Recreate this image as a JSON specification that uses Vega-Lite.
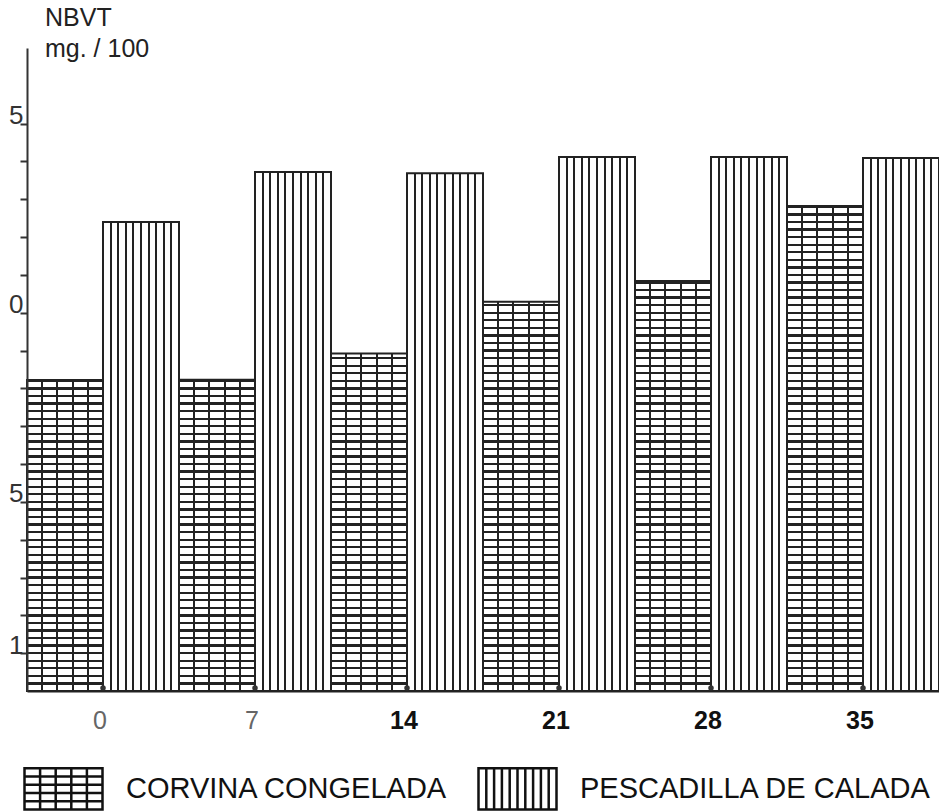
{
"$schema": "https://vega.github.io/schema/vega-lite/v6.json",
"width": 912,
"height": 643,
"autosize": "none",
"padding": {"left": 27, "top": 48, "right": 0, "bottom": 121},
"background": "white",
"config": {"view": {"stroke": null}},
"title": {"text": ["NBVT", "mg. / 100"], "anchor": "start", "frame": "group", "dx": 18, "dy": 14, "offset": 0, "font": "Liberation Sans", "fontSize": 25, "fontWeight": "normal", "lineHeight": 31, "color": "#222"},
"resolve": {"axis": {"y": "independent"}},
"data": {"values": [
{"day": 0, "series": "CORVINA CONGELADA", "value": 18.22},
{"day": 0, "series": "PESCADILLA DE CALADA", "value": 22.40},
{"day": 7, "series": "CORVINA CONGELADA", "value": 18.23},
{"day": 7, "series": "PESCADILLA DE CALADA", "value": 23.72},
{"day": 14, "series": "CORVINA CONGELADA", "value": 18.92},
{"day": 14, "series": "PESCADILLA DE CALADA", "value": 23.69},
{"day": 21, "series": "CORVINA CONGELADA", "value": 20.29},
{"day": 21, "series": "PESCADILLA DE CALADA", "value": 24.12},
{"day": 28, "series": "CORVINA CONGELADA", "value": 20.84},
{"day": 28, "series": "PESCADILLA DE CALADA", "value": 24.12},
{"day": 35, "series": "CORVINA CONGELADA", "value": 22.82},
{"day": 35, "series": "PESCADILLA DE CALADA", "value": 24.09}
]},
"encoding": {
"x": {"field": "day", "type": "ordinal", "scale": {"paddingInner": 0, "paddingOuter": 0},
 "axis": {"title": null, "labelAngle": 0, "tickSize": 0, "domain": true, "domainColor": "#222", "domainWidth": 2, "labelFont": "Liberation Sans", "labelFontSize": 25, "labelPadding": 17, "labelBaseline": "top", "labelOffset": -3, "zindex": 1,
  "labelFontWeight": {"condition": {"test": "datum.value >= 14", "value": "bold"}, "value": "normal"},
  "labelColor": {"condition": {"test": "datum.value < 14", "value": "#666"}, "value": "#111"}}}
},
"layer": [
{"transform": [{"filter": "datum.series == 'CORVINA CONGELADA'"}],
 "mark": {"type": "bar", "strokeWidth": 0, "fill": {"gradient": "linear", "x1": 0, "y1": 0, "x2": 0, "y2": 1, "stops": [
{"offset": 0, "color": "#fff"},
{"offset": 0.00996, "color": "#fff"},{"offset": 0.00996, "color": "#222"},{"offset": 0.01356, "color": "#222"},{"offset": 0.01356, "color": "#fff"},
{"offset": 0.02173, "color": "#fff"},{"offset": 0.02173, "color": "#222"},{"offset": 0.02533, "color": "#222"},{"offset": 0.02533, "color": "#fff"},
{"offset": 0.03349, "color": "#fff"},{"offset": 0.03349, "color": "#222"},{"offset": 0.03709, "color": "#222"},{"offset": 0.03709, "color": "#fff"},
{"offset": 0.04526, "color": "#fff"},{"offset": 0.04526, "color": "#222"},{"offset": 0.04886, "color": "#222"},{"offset": 0.04886, "color": "#fff"},
{"offset": 0.05702, "color": "#fff"},{"offset": 0.05702, "color": "#222"},{"offset": 0.06062, "color": "#222"},{"offset": 0.06062, "color": "#fff"},
{"offset": 0.06879, "color": "#fff"},{"offset": 0.06879, "color": "#222"},{"offset": 0.07239, "color": "#222"},{"offset": 0.07239, "color": "#fff"},
{"offset": 0.08055, "color": "#fff"},{"offset": 0.08055, "color": "#222"},{"offset": 0.08415, "color": "#222"},{"offset": 0.08415, "color": "#fff"},
{"offset": 0.09232, "color": "#fff"},{"offset": 0.09232, "color": "#222"},{"offset": 0.09592, "color": "#222"},{"offset": 0.09592, "color": "#fff"},
{"offset": 0.10408, "color": "#fff"},{"offset": 0.10408, "color": "#222"},{"offset": 0.10768, "color": "#222"},{"offset": 0.10768, "color": "#fff"},
{"offset": 0.11585, "color": "#fff"},{"offset": 0.11585, "color": "#222"},{"offset": 0.11945, "color": "#222"},{"offset": 0.11945, "color": "#fff"},
{"offset": 0.12761, "color": "#fff"},{"offset": 0.12761, "color": "#222"},{"offset": 0.13121, "color": "#222"},{"offset": 0.13121, "color": "#fff"},
{"offset": 0.13938, "color": "#fff"},{"offset": 0.13938, "color": "#222"},{"offset": 0.14298, "color": "#222"},{"offset": 0.14298, "color": "#fff"},
{"offset": 0.15114, "color": "#fff"},{"offset": 0.15114, "color": "#222"},{"offset": 0.15474, "color": "#222"},{"offset": 0.15474, "color": "#fff"},
{"offset": 0.16291, "color": "#fff"},{"offset": 0.16291, "color": "#222"},{"offset": 0.16651, "color": "#222"},{"offset": 0.16651, "color": "#fff"},
{"offset": 0.17467, "color": "#fff"},{"offset": 0.17467, "color": "#222"},{"offset": 0.17827, "color": "#222"},{"offset": 0.17827, "color": "#fff"},
{"offset": 0.18644, "color": "#fff"},{"offset": 0.18644, "color": "#222"},{"offset": 0.19004, "color": "#222"},{"offset": 0.19004, "color": "#fff"},
{"offset": 0.1982, "color": "#fff"},{"offset": 0.1982, "color": "#222"},{"offset": 0.2018, "color": "#222"},{"offset": 0.2018, "color": "#fff"},
{"offset": 0.20996, "color": "#fff"},{"offset": 0.20996, "color": "#222"},{"offset": 0.21356, "color": "#222"},{"offset": 0.21356, "color": "#fff"},
{"offset": 0.22173, "color": "#fff"},{"offset": 0.22173, "color": "#222"},{"offset": 0.22533, "color": "#222"},{"offset": 0.22533, "color": "#fff"},
{"offset": 0.23349, "color": "#fff"},{"offset": 0.23349, "color": "#222"},{"offset": 0.23709, "color": "#222"},{"offset": 0.23709, "color": "#fff"},
{"offset": 0.24526, "color": "#fff"},{"offset": 0.24526, "color": "#222"},{"offset": 0.24886, "color": "#222"},{"offset": 0.24886, "color": "#fff"},
{"offset": 0.25702, "color": "#fff"},{"offset": 0.25702, "color": "#222"},{"offset": 0.26062, "color": "#222"},{"offset": 0.26062, "color": "#fff"},
{"offset": 0.26879, "color": "#fff"},{"offset": 0.26879, "color": "#222"},{"offset": 0.27239, "color": "#222"},{"offset": 0.27239, "color": "#fff"},
{"offset": 0.28055, "color": "#fff"},{"offset": 0.28055, "color": "#222"},{"offset": 0.28415, "color": "#222"},{"offset": 0.28415, "color": "#fff"},
{"offset": 0.29232, "color": "#fff"},{"offset": 0.29232, "color": "#222"},{"offset": 0.29592, "color": "#222"},{"offset": 0.29592, "color": "#fff"},
{"offset": 0.30408, "color": "#fff"},{"offset": 0.30408, "color": "#222"},{"offset": 0.30768, "color": "#222"},{"offset": 0.30768, "color": "#fff"},
{"offset": 0.31585, "color": "#fff"},{"offset": 0.31585, "color": "#222"},{"offset": 0.31945, "color": "#222"},{"offset": 0.31945, "color": "#fff"},
{"offset": 0.32761, "color": "#fff"},{"offset": 0.32761, "color": "#222"},{"offset": 0.33121, "color": "#222"},{"offset": 0.33121, "color": "#fff"},
{"offset": 0.33938, "color": "#fff"},{"offset": 0.33938, "color": "#222"},{"offset": 0.34298, "color": "#222"},{"offset": 0.34298, "color": "#fff"},
{"offset": 0.35114, "color": "#fff"},{"offset": 0.35114, "color": "#222"},{"offset": 0.35474, "color": "#222"},{"offset": 0.35474, "color": "#fff"},
{"offset": 0.36291, "color": "#fff"},{"offset": 0.36291, "color": "#222"},{"offset": 0.36651, "color": "#222"},{"offset": 0.36651, "color": "#fff"},
{"offset": 0.37467, "color": "#fff"},{"offset": 0.37467, "color": "#222"},{"offset": 0.37827, "color": "#222"},{"offset": 0.37827, "color": "#fff"},
{"offset": 0.38644, "color": "#fff"},{"offset": 0.38644, "color": "#222"},{"offset": 0.39004, "color": "#222"},{"offset": 0.39004, "color": "#fff"},
{"offset": 0.3982, "color": "#fff"},{"offset": 0.3982, "color": "#222"},{"offset": 0.4018, "color": "#222"},{"offset": 0.4018, "color": "#fff"},
{"offset": 0.40996, "color": "#fff"},{"offset": 0.40996, "color": "#222"},{"offset": 0.41356, "color": "#222"},{"offset": 0.41356, "color": "#fff"},
{"offset": 0.42173, "color": "#fff"},{"offset": 0.42173, "color": "#222"},{"offset": 0.42533, "color": "#222"},{"offset": 0.42533, "color": "#fff"},
{"offset": 0.43349, "color": "#fff"},{"offset": 0.43349, "color": "#222"},{"offset": 0.43709, "color": "#222"},{"offset": 0.43709, "color": "#fff"},
{"offset": 0.44526, "color": "#fff"},{"offset": 0.44526, "color": "#222"},{"offset": 0.44886, "color": "#222"},{"offset": 0.44886, "color": "#fff"},
{"offset": 0.45702, "color": "#fff"},{"offset": 0.45702, "color": "#222"},{"offset": 0.46062, "color": "#222"},{"offset": 0.46062, "color": "#fff"},
{"offset": 0.46879, "color": "#fff"},{"offset": 0.46879, "color": "#222"},{"offset": 0.47239, "color": "#222"},{"offset": 0.47239, "color": "#fff"},
{"offset": 0.48055, "color": "#fff"},{"offset": 0.48055, "color": "#222"},{"offset": 0.48415, "color": "#222"},{"offset": 0.48415, "color": "#fff"},
{"offset": 0.49232, "color": "#fff"},{"offset": 0.49232, "color": "#222"},{"offset": 0.49592, "color": "#222"},{"offset": 0.49592, "color": "#fff"},
{"offset": 0.50408, "color": "#fff"},{"offset": 0.50408, "color": "#222"},{"offset": 0.50768, "color": "#222"},{"offset": 0.50768, "color": "#fff"},
{"offset": 0.51585, "color": "#fff"},{"offset": 0.51585, "color": "#222"},{"offset": 0.51945, "color": "#222"},{"offset": 0.51945, "color": "#fff"},
{"offset": 0.52761, "color": "#fff"},{"offset": 0.52761, "color": "#222"},{"offset": 0.53121, "color": "#222"},{"offset": 0.53121, "color": "#fff"},
{"offset": 0.53938, "color": "#fff"},{"offset": 0.53938, "color": "#222"},{"offset": 0.54298, "color": "#222"},{"offset": 0.54298, "color": "#fff"},
{"offset": 0.55114, "color": "#fff"},{"offset": 0.55114, "color": "#222"},{"offset": 0.55474, "color": "#222"},{"offset": 0.55474, "color": "#fff"},
{"offset": 0.56291, "color": "#fff"},{"offset": 0.56291, "color": "#222"},{"offset": 0.56651, "color": "#222"},{"offset": 0.56651, "color": "#fff"},
{"offset": 0.57467, "color": "#fff"},{"offset": 0.57467, "color": "#222"},{"offset": 0.57827, "color": "#222"},{"offset": 0.57827, "color": "#fff"},
{"offset": 0.58644, "color": "#fff"},{"offset": 0.58644, "color": "#222"},{"offset": 0.59004, "color": "#222"},{"offset": 0.59004, "color": "#fff"},
{"offset": 0.5982, "color": "#fff"},{"offset": 0.5982, "color": "#222"},{"offset": 0.6018, "color": "#222"},{"offset": 0.6018, "color": "#fff"},
{"offset": 0.60996, "color": "#fff"},{"offset": 0.60996, "color": "#222"},{"offset": 0.61356, "color": "#222"},{"offset": 0.61356, "color": "#fff"},
{"offset": 0.62173, "color": "#fff"},{"offset": 0.62173, "color": "#222"},{"offset": 0.62533, "color": "#222"},{"offset": 0.62533, "color": "#fff"},
{"offset": 0.63349, "color": "#fff"},{"offset": 0.63349, "color": "#222"},{"offset": 0.63709, "color": "#222"},{"offset": 0.63709, "color": "#fff"},
{"offset": 0.64526, "color": "#fff"},{"offset": 0.64526, "color": "#222"},{"offset": 0.64886, "color": "#222"},{"offset": 0.64886, "color": "#fff"},
{"offset": 0.65702, "color": "#fff"},{"offset": 0.65702, "color": "#222"},{"offset": 0.66062, "color": "#222"},{"offset": 0.66062, "color": "#fff"},
{"offset": 0.66879, "color": "#fff"},{"offset": 0.66879, "color": "#222"},{"offset": 0.67239, "color": "#222"},{"offset": 0.67239, "color": "#fff"},
{"offset": 0.68055, "color": "#fff"},{"offset": 0.68055, "color": "#222"},{"offset": 0.68415, "color": "#222"},{"offset": 0.68415, "color": "#fff"},
{"offset": 0.69232, "color": "#fff"},{"offset": 0.69232, "color": "#222"},{"offset": 0.69592, "color": "#222"},{"offset": 0.69592, "color": "#fff"},
{"offset": 0.70408, "color": "#fff"},{"offset": 0.70408, "color": "#222"},{"offset": 0.70768, "color": "#222"},{"offset": 0.70768, "color": "#fff"},
{"offset": 0.71585, "color": "#fff"},{"offset": 0.71585, "color": "#222"},{"offset": 0.71945, "color": "#222"},{"offset": 0.71945, "color": "#fff"},
{"offset": 0.72761, "color": "#fff"},{"offset": 0.72761, "color": "#222"},{"offset": 0.73121, "color": "#222"},{"offset": 0.73121, "color": "#fff"},
{"offset": 0.73938, "color": "#fff"},{"offset": 0.73938, "color": "#222"},{"offset": 0.74298, "color": "#222"},{"offset": 0.74298, "color": "#fff"},
{"offset": 0.75114, "color": "#fff"},{"offset": 0.75114, "color": "#222"},{"offset": 0.75474, "color": "#222"},{"offset": 0.75474, "color": "#fff"},
{"offset": 0.76291, "color": "#fff"},{"offset": 0.76291, "color": "#222"},{"offset": 0.76651, "color": "#222"},{"offset": 0.76651, "color": "#fff"},
{"offset": 0.77467, "color": "#fff"},{"offset": 0.77467, "color": "#222"},{"offset": 0.77827, "color": "#222"},{"offset": 0.77827, "color": "#fff"},
{"offset": 0.78644, "color": "#fff"},{"offset": 0.78644, "color": "#222"},{"offset": 0.79004, "color": "#222"},{"offset": 0.79004, "color": "#fff"},
{"offset": 0.7982, "color": "#fff"},{"offset": 0.7982, "color": "#222"},{"offset": 0.8018, "color": "#222"},{"offset": 0.8018, "color": "#fff"},
{"offset": 0.80996, "color": "#fff"},{"offset": 0.80996, "color": "#222"},{"offset": 0.81356, "color": "#222"},{"offset": 0.81356, "color": "#fff"},
{"offset": 0.82173, "color": "#fff"},{"offset": 0.82173, "color": "#222"},{"offset": 0.82533, "color": "#222"},{"offset": 0.82533, "color": "#fff"},
{"offset": 0.83349, "color": "#fff"},{"offset": 0.83349, "color": "#222"},{"offset": 0.83709, "color": "#222"},{"offset": 0.83709, "color": "#fff"},
{"offset": 0.84526, "color": "#fff"},{"offset": 0.84526, "color": "#222"},{"offset": 0.84886, "color": "#222"},{"offset": 0.84886, "color": "#fff"},
{"offset": 0.85702, "color": "#fff"},{"offset": 0.85702, "color": "#222"},{"offset": 0.86062, "color": "#222"},{"offset": 0.86062, "color": "#fff"},
{"offset": 0.86879, "color": "#fff"},{"offset": 0.86879, "color": "#222"},{"offset": 0.87239, "color": "#222"},{"offset": 0.87239, "color": "#fff"},
{"offset": 0.88055, "color": "#fff"},{"offset": 0.88055, "color": "#222"},{"offset": 0.88415, "color": "#222"},{"offset": 0.88415, "color": "#fff"},
{"offset": 0.89232, "color": "#fff"},{"offset": 0.89232, "color": "#222"},{"offset": 0.89592, "color": "#222"},{"offset": 0.89592, "color": "#fff"},
{"offset": 0.90408, "color": "#fff"},{"offset": 0.90408, "color": "#222"},{"offset": 0.90768, "color": "#222"},{"offset": 0.90768, "color": "#fff"},
{"offset": 0.91585, "color": "#fff"},{"offset": 0.91585, "color": "#222"},{"offset": 0.91945, "color": "#222"},{"offset": 0.91945, "color": "#fff"},
{"offset": 0.92761, "color": "#fff"},{"offset": 0.92761, "color": "#222"},{"offset": 0.93121, "color": "#222"},{"offset": 0.93121, "color": "#fff"},
{"offset": 0.93938, "color": "#fff"},{"offset": 0.93938, "color": "#222"},{"offset": 0.94298, "color": "#222"},{"offset": 0.94298, "color": "#fff"},
{"offset": 0.95114, "color": "#fff"},{"offset": 0.95114, "color": "#222"},{"offset": 0.95474, "color": "#222"},{"offset": 0.95474, "color": "#fff"},
{"offset": 0.96291, "color": "#fff"},{"offset": 0.96291, "color": "#222"},{"offset": 0.96651, "color": "#222"},{"offset": 0.96651, "color": "#fff"},
{"offset": 0.97467, "color": "#fff"},{"offset": 0.97467, "color": "#222"},{"offset": 0.97827, "color": "#222"},{"offset": 0.97827, "color": "#fff"},
{"offset": 0.98644, "color": "#fff"},{"offset": 0.98644, "color": "#222"},{"offset": 0.99004, "color": "#222"},{"offset": 0.99004, "color": "#fff"},
{"offset": 1, "color": "#fff"}
 ]}},
 "encoding": {
  "xOffset": {"field": "series", "type": "nominal", "scale": {"paddingInner": 0, "paddingOuter": 0}},
  "y": {"datum": 27, "type": "quantitative", "scale": {"domain": [10, 27], "nice": false, "zero": false},
   "axis": {"title": null, "values": [11,12,13,14,15,16,17,18,19,20,21,22,23,24,25], "labelExpr": "datum.value == 25 || datum.value == 15 ? '5' : datum.value == 20 ? '0' : datum.value == 11 ? '1' : ''", "tickSize": 7, "tickWidth": 2, "tickColor": "#333", "domainColor": "#333", "domainWidth": 2, "labelFont": "Liberation Sans", "labelFontSize": 26, "labelColor": "#333", "labelBaseline": "alphabetic", "labelPadding": -3, "grid": false, "zindex": 1}},
  "y2": {"datum": 10}
 }
},
{"transform": [{"filter": "datum.series == 'CORVINA CONGELADA'"}],
 "mark": {"type": "bar", "fill": "white", "strokeWidth": 0},
 "encoding": {
  "xOffset": {"field": "series", "type": "nominal"},
  "y": {"field": "value", "type": "quantitative", "axis": null},
  "y2": {"datum": 27}
 }
},
{"transform": [{"filter": "datum.series == 'CORVINA CONGELADA'"}],
 "mark": {"type": "bar", "stroke": "#222", "strokeWidth": 2, "fill": {"gradient": "linear", "x1": 0, "y1": 0, "x2": 1, "y2": 0, "stops": [
{"offset": 0, "color": "rgba(0,0,0,0)"},
{"offset": 0.186, "color": "rgba(0,0,0,0)"},{"offset": 0.186, "color": "#222"},{"offset": 0.214, "color": "#222"},{"offset": 0.214, "color": "rgba(0,0,0,0)"},
{"offset": 0.386, "color": "rgba(0,0,0,0)"},{"offset": 0.386, "color": "#222"},{"offset": 0.414, "color": "#222"},{"offset": 0.414, "color": "rgba(0,0,0,0)"},
{"offset": 0.586, "color": "rgba(0,0,0,0)"},{"offset": 0.586, "color": "#222"},{"offset": 0.614, "color": "#222"},{"offset": 0.614, "color": "rgba(0,0,0,0)"},
{"offset": 0.786, "color": "rgba(0,0,0,0)"},{"offset": 0.786, "color": "#222"},{"offset": 0.814, "color": "#222"},{"offset": 0.814, "color": "rgba(0,0,0,0)"},
{"offset": 1, "color": "rgba(0,0,0,0)"}
 ]}},
 "encoding": {
  "xOffset": {"field": "series", "type": "nominal"},
  "y": {"field": "value", "type": "quantitative", "axis": null},
  "y2": {"datum": 10}
 }
},
{"transform": [{"filter": "datum.series == 'PESCADILLA DE CALADA'"}],
 "mark": {"type": "bar", "stroke": "#222", "strokeWidth": 2, "fill": {"gradient": "linear", "x1": 0, "y1": 0, "x2": 1, "y2": 0, "stops": [
{"offset": 0, "color": "#fff"},
{"offset": 0.088, "color": "#fff"},{"offset": 0.088, "color": "#222"},{"offset": 0.112, "color": "#222"},{"offset": 0.112, "color": "#fff"},
{"offset": 0.188, "color": "#fff"},{"offset": 0.188, "color": "#222"},{"offset": 0.212, "color": "#222"},{"offset": 0.212, "color": "#fff"},
{"offset": 0.288, "color": "#fff"},{"offset": 0.288, "color": "#222"},{"offset": 0.312, "color": "#222"},{"offset": 0.312, "color": "#fff"},
{"offset": 0.388, "color": "#fff"},{"offset": 0.388, "color": "#222"},{"offset": 0.412, "color": "#222"},{"offset": 0.412, "color": "#fff"},
{"offset": 0.488, "color": "#fff"},{"offset": 0.488, "color": "#222"},{"offset": 0.512, "color": "#222"},{"offset": 0.512, "color": "#fff"},
{"offset": 0.588, "color": "#fff"},{"offset": 0.588, "color": "#222"},{"offset": 0.612, "color": "#222"},{"offset": 0.612, "color": "#fff"},
{"offset": 0.688, "color": "#fff"},{"offset": 0.688, "color": "#222"},{"offset": 0.712, "color": "#222"},{"offset": 0.712, "color": "#fff"},
{"offset": 0.788, "color": "#fff"},{"offset": 0.788, "color": "#222"},{"offset": 0.812, "color": "#222"},{"offset": 0.812, "color": "#fff"},
{"offset": 0.888, "color": "#fff"},{"offset": 0.888, "color": "#222"},{"offset": 0.912, "color": "#222"},{"offset": 0.912, "color": "#fff"},
{"offset": 1, "color": "#fff"}
 ]}},
 "encoding": {
  "xOffset": {"field": "series", "type": "nominal"},
  "y": {"field": "value", "type": "quantitative", "axis": null},
  "y2": {"datum": 10}
 }
},
{"transform": [{"filter": "datum.series == 'CORVINA CONGELADA'"}],
 "mark": {"type": "circle", "size": 30, "color": "#333", "opacity": 1, "yOffset": -3},
 "encoding": {"y": {"datum": 10, "type": "quantitative",
  "axis": {"orient": "right", "offset": -912, "title": null, "values": [11,12,13,14,15,16,17,18,19,20,21,22,23,24,25], "labels": false, "domain": false, "tickSize": 8, "tickWidth": 2, "tickColor": "#333", "grid": false, "zindex": 0}}}
},
{"mark": {"type": "point", "opacity": 0, "filled": false, "color": "#111", "strokeWidth": 2.5},
 "encoding": {
  "xOffset": {"field": "series", "type": "nominal"},
  "y": {"datum": 10, "type": "quantitative", "axis": null},
  "shape": {"field": "series", "type": "nominal",
   "scale": {"domain": ["CORVINA CONGELADA", "PESCADILLA DE CALADA"], "range": [
    "M-1,-0.53H1V0.53H-1Z M-0.6,-0.53V0.53 M-0.2,-0.53V0.53 M0.2,-0.53V0.53 M0.6,-0.53V0.53 M-1,-0.318H1 M-1,-0.106H1 M-1,0.106H1 M-1,0.318H1",
    "M-1,-0.53H1V0.53H-1Z M-0.8,-0.53V0.53 M-0.6,-0.53V0.53 M-0.4,-0.53V0.53 M-0.2,-0.53V0.53 M0,-0.53V0.53 M0.2,-0.53V0.53 M0.4,-0.53V0.53 M0.6,-0.53V0.53 M0.8,-0.53V0.53"]},
   "legend": {"title": null, "orient": "none", "legendX": -4, "legendY": 700, "direction": "horizontal", "padding": 0, "symbolSize": 6084, "symbolStrokeWidth": 2.5, "symbolStrokeColor": "#111", "symbolOpacity": 1, "labelFont": "Liberation Sans", "labelFontSize": 29, "labelColor": "#111", "labelOffset": 22, "labelLimit": 600, "columnPadding": 25}}
 }
}
]
}
